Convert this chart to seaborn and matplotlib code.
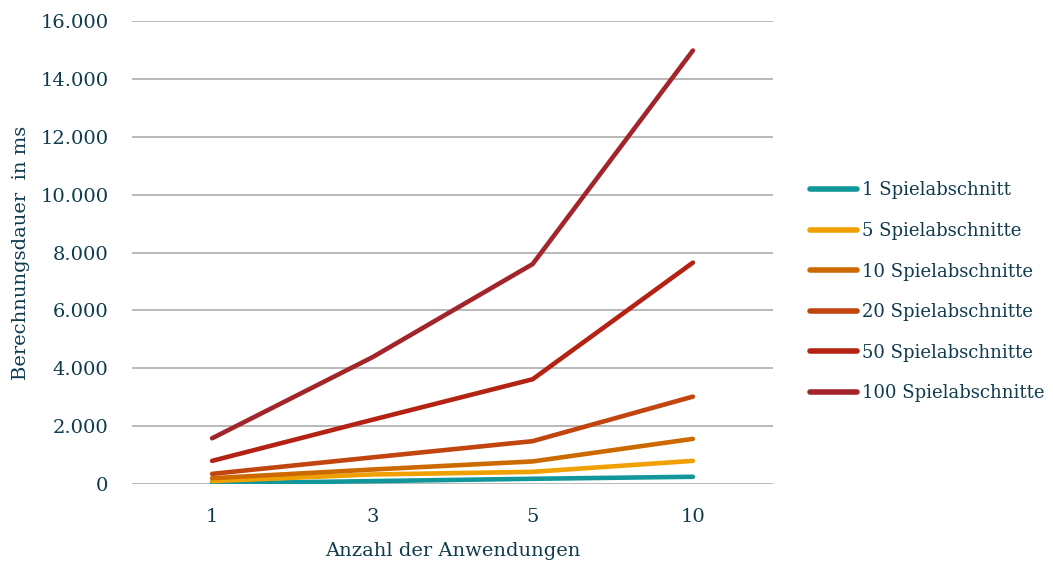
import pandas as pd
import matplotlib.pyplot as plt
import matplotlib.ticker as mticker
import seaborn as sns

# data
anwendungen = ["1", "3", "5", "10"]
serien = ["1 Spielabschnitt", "5 Spielabschnitte", "10 Spielabschnitte",
          "20 Spielabschnitte", "50 Spielabschnitte", "100 Spielabschnitte"]
werte_1 = [20, 100, 180, 250]
werte_5 = [100, 330, 420, 800]
werte_10 = [200, 500, 780, 1560]
werte_20 = [350, 920, 1480, 3020]
werte_50 = [800, 2220, 3620, 7650]
werte_100 = [1580, 4380, 7600, 14980]
farben = ["#11979a", "#f0a000", "#cc6a00", "#c2440f", "#b42214", "#a1252b"]

text_farbe = "#0f3b4f"

rows = []
for name, vals in zip(serien, [werte_1, werte_5, werte_10, werte_20, werte_50, werte_100]):
    for i, v in enumerate(vals):
        rows.append({"pos": i, "Serie": name, "ms": v})
df = pd.DataFrame(rows)

sns.set_style("white")
plt.rcParams['font.family'] = ['DejaVu Serif']

fig = plt.figure(figsize=(10.53, 5.62), dpi=100)
ax = fig.add_axes([132 / 1053, 1 - 484 / 562, (773 - 132) / 1053, (484 - 21) / 562])

sns.lineplot(data=df, x="pos", y="ms", hue="Serie", hue_order=serien,
             palette=farben, linewidth=3.3, ax=ax, legend=True,
             solid_capstyle="round", zorder=3)

ax.set_xlim(-0.5, 3.5)
ax.set_ylim(0, 16000)
ax.set_xticks(range(len(anwendungen)))
ax.set_xticklabels(anwendungen)
ax.yaxis.set_major_locator(mticker.MultipleLocator(2000))
ax.yaxis.set_major_formatter(mticker.FuncFormatter(lambda v, p: f"{int(v):,}".replace(",", ".")))
ax.grid(axis="y", color="#b3b3b3", linewidth=1.3, zorder=0)
ax.grid(axis="x", visible=False)
for s in ax.spines.values():
    s.set_visible(False)
ax.tick_params(axis="both", length=0, labelsize=14, colors=text_farbe)
ax.tick_params(axis="y", pad=17)
ax.tick_params(axis="x", pad=17)

ax.set_xlabel("Anzahl der Anwendungen", fontsize=14, color=text_farbe, labelpad=12)
ax.set_ylabel("Berechnungsdauer  in ms", fontsize=14, color=text_farbe)
ax.yaxis.set_label_coords(-(132 - 30) / 641, 0.5)

leg = ax.legend(loc="center left", bbox_to_anchor=(1.032, 0.415), frameon=False,
                fontsize=13, handlelength=2.6, labelspacing=1.25, handletextpad=0.3)
for t in leg.get_texts():
    t.set_color(text_farbe)
for h in leg.legend_handles:
    h.set_linewidth(4)
    h.set_solid_capstyle("round")

fig.savefig("out.png", dpi=100)
